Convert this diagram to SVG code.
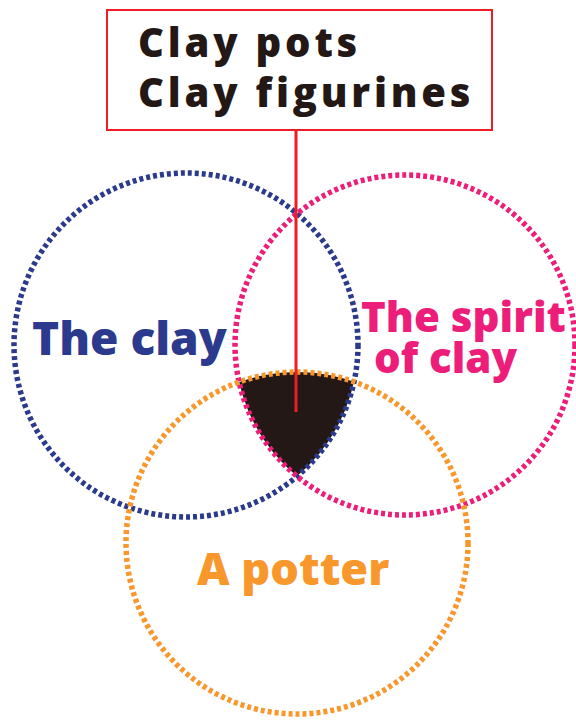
<svg xmlns="http://www.w3.org/2000/svg" width="576" height="720" viewBox="0 0 576 720">
<style>
.ring{fill:none;stroke-width:5.5;stroke-dasharray:4 3}
.lbl{font-family:"Open Sans","DejaVu Sans",sans-serif;font-weight:800}
.box{font-size:40px;letter-spacing:3.8px;fill:#231815}
</style>
<defs>
<clipPath id="cb"><circle cx="186" cy="345" r="172"/></clipPath>
<clipPath id="cp"><circle cx="405" cy="345" r="170"/></clipPath>
</defs>
<rect width="576" height="720" fill="#fff"/>
<g id="core" clip-path="url(#cp)"><g clip-path="url(#cb)"><circle cx="297" cy="543" r="171" fill="#231815"/></g></g>
<g id="clay"><circle class="ring" cx="186" cy="345" r="172" stroke="#2B3A8C"/><text class="lbl" x="32" y="355" font-size="46" fill="#2B3A8C">The clay</text></g>
<g id="spirit"><circle class="ring" cx="405" cy="345" r="170" stroke="#EC1E79"/><text class="lbl" x="361" y="332" font-size="42" fill="#EC1E79">The spirit</text><text class="lbl" x="374" y="373" font-size="42" fill="#EC1E79">of clay</text></g>
<g id="potter"><circle class="ring" cx="297" cy="543" r="171" stroke="#F7972C"/><text class="lbl" x="197" y="585" font-size="45" fill="#F7972C">A potter</text></g>
<g id="connectors"><line x1="296" y1="130" x2="296" y2="412" stroke="#EE1C25" stroke-width="3"/></g>
<g id="box"><rect x="107" y="10" width="385" height="120" fill="#fff" stroke="#EE1C25" stroke-width="2"/><text class="lbl box" x="138" y="57">Clay pots</text><text class="lbl box" x="138" y="107">Clay figurines</text></g>
</svg>
